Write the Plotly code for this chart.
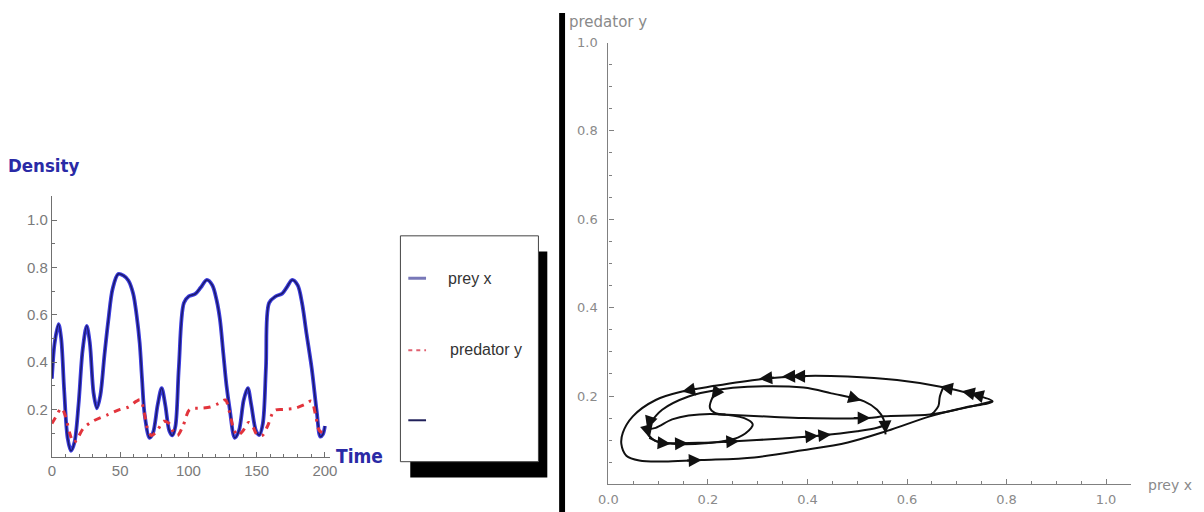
import plotly.graph_objects as go

W, H = 1204, 512


def px(x):
    return x / W


def py(y):
    return 1 - y / H


# ---------------- data: time series (left panel) ----------------
time_prey = [0, 2, 4.9, 6.8, 9, 11.5, 14, 16.5, 19.5, 22.5, 25.5, 27.8, 30.5, 33, 35.5,
             38.5, 41.4, 44.5, 48.6, 52.5, 56, 59.5, 62, 64.3, 66, 67.9, 71.5, 74, 77.5,
             80.4, 83, 86, 88.3, 90.5, 93, 96.7, 100.3, 105, 109, 113.5, 117.5, 120.7,
             123.1, 125.5, 127.9, 130.3, 133.9, 137, 140.5, 143.5, 146, 149.5, 151.9,
             154.5, 156.8, 159.1, 164, 168.8, 172.5, 176, 180, 183.2, 186.5, 190.4, 194,
             196.6, 198.5, 200]
prey_x = [0.33, 0.48, 0.56, 0.5, 0.28, 0.08, 0.025, 0.06, 0.22, 0.45, 0.553, 0.48, 0.27,
          0.205, 0.26, 0.43, 0.58, 0.71, 0.772, 0.765, 0.745, 0.69, 0.6, 0.48, 0.33, 0.18,
          0.08, 0.1, 0.22, 0.29, 0.22, 0.11, 0.09, 0.13, 0.38, 0.65, 0.678, 0.688, 0.715,
          0.747, 0.725, 0.66, 0.58, 0.44, 0.3, 0.2, 0.08, 0.11, 0.24, 0.29, 0.22, 0.11,
          0.092, 0.14, 0.38, 0.65, 0.678, 0.69, 0.72, 0.747, 0.725, 0.65, 0.52, 0.37,
          0.19, 0.085, 0.095, 0.13]

time_pred = [0, 3, 7, 10, 13, 16, 19, 23, 30, 41, 50, 56, 62, 65, 67.5, 70, 73, 77, 82,
             86, 89, 92, 96, 101, 108, 116, 122, 127, 130, 133, 136, 140, 144, 147, 150,
             154, 158, 163, 170, 178, 185, 190, 193, 196, 200]
predator_y = [0.14, 0.17, 0.205, 0.17, 0.1, 0.06, 0.08, 0.12, 0.15, 0.178, 0.2, 0.21,
              0.235, 0.24, 0.19, 0.12, 0.09, 0.11, 0.15, 0.14, 0.105, 0.09, 0.13, 0.2,
              0.205, 0.21, 0.225, 0.24, 0.19, 0.12, 0.09, 0.11, 0.145, 0.13, 0.095, 0.09,
              0.13, 0.195, 0.2, 0.205, 0.22, 0.235, 0.18, 0.11, 0.1]

time_ticks = [0, 50, 100, 150, 200]
density_ticks = [0.2, 0.4, 0.6, 0.8, 1.0]

# ---------------- data: phase portrait (right panel) ----------------
outer_x = [0.026, 0.036, 0.062, 0.12, 0.1875, 0.293, 0.39, 0.481, 0.56, 0.646, 0.712,
           0.772, 0.725, 0.673, 0.58, 0.481, 0.382, 0.306, 0.214, 0.148, 0.095, 0.049,
           0.029, 0.026]
outer_y = [0.091, 0.065, 0.054, 0.052, 0.055, 0.061, 0.077, 0.095, 0.121, 0.154, 0.173,
           0.188, 0.206, 0.220, 0.236, 0.244, 0.245, 0.238, 0.223, 0.21, 0.191, 0.154,
           0.117, 0.091]

upper_x = [0.082, 0.108, 0.161, 0.22, 0.28, 0.392, 0.448, 0.514, 0.54, 0.553, 0.555, 0.557]
upper_y = [0.136, 0.169, 0.199, 0.214, 0.221, 0.219, 0.206, 0.188, 0.169, 0.147, 0.128, 0.113]

small_x = [0.08, 0.095, 0.128, 0.161, 0.22, 0.273, 0.29, 0.287, 0.26, 0.194, 0.128, 0.095,
           0.08]
small_y = [0.125, 0.128, 0.147, 0.156, 0.159, 0.15, 0.136, 0.128, 0.106, 0.093, 0.092,
           0.098, 0.112]

mid_x = [0.22, 0.326, 0.392, 0.521, 0.554, 0.646, 0.712, 0.772]
mid_y = [0.159, 0.153, 0.15, 0.15, 0.154, 0.158, 0.172, 0.188]

inner_x = [0.22, 0.207, 0.204, 0.214, 0.235]
inner_y = [0.214, 0.191, 0.173, 0.162, 0.158]

lower_x = [0.082, 0.105, 0.18, 0.263, 0.35, 0.422, 0.5, 0.54, 0.556]
lower_y = [0.105, 0.095, 0.094, 0.098, 0.104, 0.11, 0.12, 0.128, 0.135]

vert_x = [0.673, 0.666, 0.663, 0.653, 0.646]
vert_y = [0.22, 0.199, 0.177, 0.162, 0.155]

# arrows: (tail x, tail y, head x, head y), all on the trajectory
arrows = [
    (0.155, 0.054, 0.1875, 0.055),
    (0.18, 0.217, 0.148, 0.21),
    (0.335, 0.242, 0.303, 0.239),
    (0.38, 0.245, 0.349, 0.244),
    (0.40, 0.245, 0.369, 0.245),
    (0.695, 0.215, 0.666, 0.221),
    (0.735, 0.205, 0.71, 0.211),
    (0.752, 0.199, 0.728, 0.206),
    (0.48, 0.199, 0.508, 0.19),
    (0.219, 0.212, 0.207, 0.193),
    (0.49, 0.15, 0.527, 0.15),
    (0.39, 0.107, 0.422, 0.11),
    (0.418, 0.11, 0.448, 0.113),
    (0.23, 0.096, 0.263, 0.098),
    (0.1, 0.094, 0.125, 0.092),
    (0.13, 0.092, 0.16, 0.093),
    (0.083, 0.142, 0.078, 0.125),
    (0.079, 0.122, 0.083, 0.105),
    (0.556, 0.138, 0.557, 0.115),
]

phase_ticks_x = [0.0, 0.2, 0.4, 0.6, 0.8, 1.0]
phase_ticks_y = [0.2, 0.4, 0.6, 0.8, 1.0]

# ---------------- figure ----------------
fig = go.Figure()

# prey (blue halo + navy core)
fig.add_trace(go.Scatter(x=time_prey, y=prey_x, mode="lines", xaxis="x", yaxis="y",
                         line=dict(color="#3c3cdc", width=3.8, shape="spline", smoothing=0.9),
                         hoverinfo="skip"))
fig.add_trace(go.Scatter(x=time_prey, y=prey_x, mode="lines", xaxis="x", yaxis="y",
                         line=dict(color="#1a1a6c", width=1.5, shape="spline", smoothing=0.9),
                         hoverinfo="skip"))
# predator (red dash-dot)
fig.add_trace(go.Scatter(x=time_pred, y=predator_y, mode="lines", xaxis="x", yaxis="y",
                         line=dict(color="#e2343c", width=3, dash="7px,6px,2.5px,6px",
                                   shape="spline", smoothing=0.9),
                         hoverinfo="skip"))

# phase portrait segments
for sx, sy in [(outer_x, outer_y), (upper_x, upper_y), (small_x, small_y), (mid_x, mid_y),
               (inner_x, inner_y), (lower_x, lower_y), (vert_x, vert_y)]:
    fig.add_trace(go.Scatter(x=sx, y=sy, mode="lines", xaxis="x2", yaxis="y2",
                             line=dict(color="#111111", width=2, shape="spline", smoothing=1),
                             hoverinfo="skip"))

annotations = []
for (tx, ty, hx, hy) in arrows:
    annotations.append(dict(x=hx, y=hy, ax=tx, ay=ty, xref="x2", yref="y2", axref="x2",
                            ayref="y2", text="", showarrow=True, arrowhead=2,
                            arrowsize=1.3, arrowwidth=2, arrowcolor="#111111"))

label_font = "DejaVu Sans Condensed, Liberation Sans Narrow, Arial Narrow, sans-serif"
annotations += [
    dict(x=px(34), y=py(161), xref="paper", yref="paper", text="<b>Density</b>",
         showarrow=False, xanchor="center", yanchor="middle",
         font=dict(family=label_font, size=18.5, color="#2a2aa6")),
    dict(x=px(355), y=py(455), xref="paper", yref="paper", text="<b>Time</b>",
         showarrow=False, xanchor="center", yanchor="middle",
         font=dict(family=label_font, size=19, color="#2a2aa6")),
    dict(x=px(467), y=py(275), xref="paper", yref="paper", text="prey x",
         showarrow=False, xanchor="center", yanchor="middle",
         font=dict(family="Liberation Sans, Arial, sans-serif", size=16, color="#333333")),
    dict(x=px(483), y=py(347), xref="paper", yref="paper", text="predator y",
         showarrow=False, xanchor="center", yanchor="middle",
         font=dict(family="Liberation Sans, Arial, sans-serif", size=16, color="#333333")),
    dict(x=px(607), y=py(15), xref="paper", yref="paper", text="predator y",
         showarrow=False, xanchor="center", yanchor="middle",
         font=dict(family="DejaVu Sans, sans-serif", size=15, color="#8a8a8a")),
    dict(x=px(1177), y=py(485), xref="paper", yref="paper", text="prey x",
         showarrow=False, xanchor="center", yanchor="middle",
         font=dict(family="DejaVu Sans, sans-serif", size=14, color="#8a8a8a")),
]

shapes = [
    # legend shadow and box
    dict(type="rect", xref="paper", yref="paper", x0=px(406), x1=px(545), y0=py(477),
         y1=py(248), fillcolor="#000000", line=dict(width=0)),
    dict(type="rect", xref="paper", yref="paper", x0=px(396), x1=px(536), y0=py(461),
         y1=py(232), fillcolor="#ffffff", line=dict(color="#444444", width=1)),
    dict(type="line", xref="paper", yref="paper", x0=px(404), x1=px(422), y0=py(275),
         y1=py(275), line=dict(color="#7878b8", width=3)),
    dict(type="line", xref="paper", yref="paper", x0=px(404), x1=px(422), y0=py(348),
         y1=py(348), line=dict(color="#e06070", width=2, dash="4px,4px")),
    dict(type="line", xref="paper", yref="paper", x0=px(404), x1=px(422), y0=py(419),
         y1=py(419), line=dict(color="#20205a", width=2)),
    # separating black bar
    dict(type="rect", xref="paper", yref="paper", x0=px(557), x1=px(563), y0=0,
         y1=py(6), fillcolor="#000000", line=dict(width=0)),
]

tick_font_left = dict(family="Liberation Sans, Arial, sans-serif", size=15, color="#7a7a7a")
tick_font_right = dict(family="DejaVu Sans, sans-serif", size=13, color="#8a8a8a")

fig.update_layout(
    width=W, height=H,
    margin=dict(l=0, r=0, t=0, b=0),
    paper_bgcolor="white", plot_bgcolor="white",
    showlegend=False,
    xaxis=dict(domain=[px(42.5), px(325)], range=[0, 204], anchor="y",
               showline=True, linecolor="#707070", linewidth=1.2, showgrid=False,
               zeroline=False, ticks="inside", ticklen=5, tickcolor="#707070",
               tickvals=time_ticks, ticktext=[str(v) for v in time_ticks],
               tickfont=tick_font_left,
               minor=dict(ticks="inside", ticklen=3, dtick=10, tick0=0,
                          tickcolor="#707070", showgrid=False)),
    yaxis=dict(domain=[py(456), py(192)], range=[0, 1.1], anchor="x",
               showline=True, linecolor="#707070", linewidth=1.2, showgrid=False,
               zeroline=False, ticks="inside", ticklen=5, tickcolor="#707070",
               tickvals=density_ticks, ticktext=["%.1f" % v for v in density_ticks],
               tickfont=tick_font_left,
               minor=dict(ticks="inside", ticklen=3, dtick=0.1, tick0=0,
                          tickcolor="#707070", showgrid=False)),
    xaxis2=dict(domain=[px(607), px(1137)], range=[0, 1.05], anchor="y2",
                showline=True, linecolor="#808080", linewidth=1.2, showgrid=False,
                zeroline=False, ticks="inside", ticklen=5, tickcolor="#808080",
                tickvals=phase_ticks_x, ticktext=["%.1f" % v for v in phase_ticks_x],
                tickfont=tick_font_right, ticklabelstandoff=3,
                minor=dict(ticks="inside", ticklen=3, dtick=0.05, tick0=0,
                           tickcolor="#808080", showgrid=False)),
    yaxis2=dict(domain=[py(484), py(36)], range=[0, 1.0], anchor="x2",
                showline=True, linecolor="#808080", linewidth=1.2, showgrid=False,
                zeroline=False, ticks="inside", ticklen=5, tickcolor="#808080",
                tickvals=phase_ticks_y, ticktext=["%.1f" % v for v in phase_ticks_y],
                tickfont=tick_font_right, ticklabelstandoff=7,
                minor=dict(ticks="inside", ticklen=3, dtick=0.05, tick0=0,
                           tickcolor="#808080", showgrid=False)),
    annotations=annotations,
    shapes=shapes,
)

fig.write_html("out.html")
